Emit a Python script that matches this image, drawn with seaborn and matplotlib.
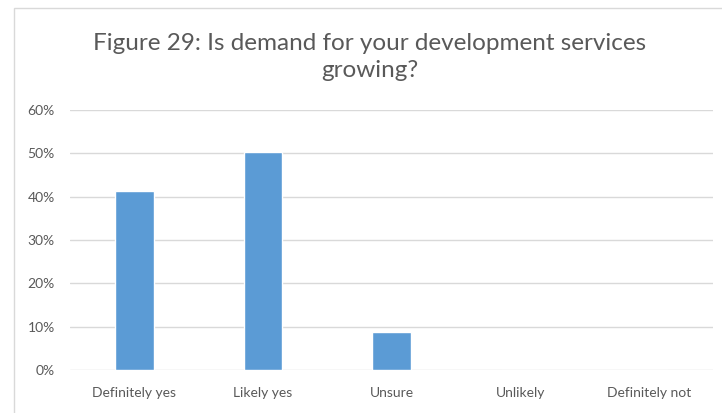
import matplotlib
matplotlib.use("Agg")
import matplotlib.pyplot as plt
import seaborn as sns
import pandas as pd
from matplotlib.patches import Rectangle
from matplotlib.ticker import PercentFormatter

categories = ["Definitely yes", "Likely yes", "Unsure", "Unlikely", "Definitely not"]
values = [41.2, 50.3, 8.8, 0.0, 0.0]
yticks = [0, 10, 20, 30, 40, 50, 60]
title = "Figure 29: Is demand for your development services\ngrowing?"

sns.set_theme(style="white")
plt.rcParams['font.family'] = ['Lato', 'DejaVu Sans']

df = pd.DataFrame({"cat": categories, "val": values})

fig = plt.figure(figsize=(7.22, 4.13), dpi=100)
ax = fig.add_axes([70/722, 1-370/413, (713-70)/722, (370-110)/413])

sns.barplot(data=df, x="cat", y="val", ax=ax, color="#5B9BD5", width=0.3,
            saturation=1, zorder=3)

ax.set_ylim(0, 60)
ax.set_xlim(-0.5, 4.5)
ax.set_yticks(yticks)
ax.yaxis.set_major_formatter(PercentFormatter(decimals=0))
ax.grid(axis="y", color="#D9D9D9", linewidth=1, zorder=0)
ax.set_axisbelow(True)
for s in ax.spines.values():
    s.set_visible(False)
ax.set_xlabel("")
ax.set_ylabel("")
ax.tick_params(axis="both", length=0, labelsize=10, colors="#595959")
ax.tick_params(axis="y", pad=11)
ax.tick_params(axis="x", pad=12)

fig.text(370/722, 1-57/413, title, ha="center", va="center", fontsize=17.5,
         color="#595959", linespacing=1.4)

fig.patches.append(Rectangle((14/722, -0.1), 1.0, 1-8/413+0.1, transform=fig.transFigure,
                             fill=False, edgecolor="#D9D9D9", linewidth=1))

fig.savefig("out.png", dpi=100)
